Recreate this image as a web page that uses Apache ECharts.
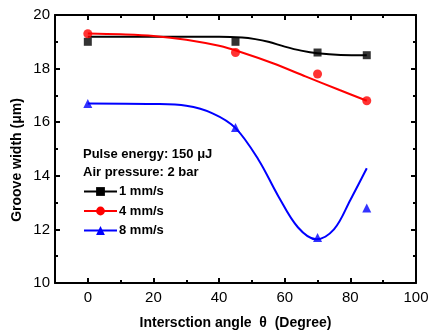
<!DOCTYPE html>
<html>
<head>
<meta charset="utf-8">
<script src="https://cdn.jsdelivr.net/npm/echarts@6/dist/echarts.min.js"></script>
<style>
  html, body { margin: 0; padding: 0; background: #fff; }
  #chart { width: 429px; height: 331px; }
</style>
</head>
<body>
<div id="chart"></div>
<script>
// Measured groove widths (μm) at each intersection angle (degree)
const angles = [0, 45, 70, 85];
const width1 = [19.0, 19.0, 18.6, 18.5];   // 1 mm/s
const width4 = [19.3, 18.6, 17.8, 16.8];   // 4 mm/s
const width8 = [16.7, 15.8, 11.7, 12.8];   // 8 mm/s

// Fitted trend curves: [angle, width]
const fit1 = [[0, 19.19], [20, 19.19], [40, 19.19], [47, 19.16], [51, 19.1], [55, 19.0],
              [60, 18.82], [65, 18.67], [70, 18.57], [77, 18.51], [85, 18.5]];
const fit4 = [[0, 19.31], [10, 19.28], [20, 19.22], [30, 19.08], [40, 18.85], [46.3, 18.63],
              [56.4, 18.2], [66.5, 17.7], [76.7, 17.2], [85, 16.8]];
const fit8 = [[0, 16.7], [20, 16.68], [30, 16.61], [38, 16.33], [45, 15.78], [52, 14.6],
              [58, 13.25], [64, 12.08], [69.6, 11.63], [75, 12.0], [80, 13.1], [85, 14.28]];

const xMajor = [0, 20, 40, 60, 80, 100];
const xMinor = [10, 30, 50, 70, 90];
const yMajor = [10, 12, 14, 16, 18, 20];
const yMinor = [11, 13, 15, 17, 19];

const seriesNames = ['1 mm/s', '4 mm/s', '8 mm/s'];
const infoLines = ['Pulse energy: 150 μJ', 'Air pressure: 2 bar'];
const xTitle = 'Intersction angle  θ  (Degree)';
const yTitle = 'Groove width (μm)';

const FONT = '"Liberation Sans", Arial, sans-serif';
const X_RANGE = { min: -10, max: 100 };
const Y_RANGE = { min: 10, max: 20 };

function xAxisDef(pos, ticks, len, withLine, withLabels, extra) {
  return Object.assign({
    type: 'value', position: pos, min: X_RANGE.min, max: X_RANGE.max,
    axisLine: { show: withLine, onZero: false, lineStyle: { color: '#000', width: 2 } },
    axisTick: { show: true, inside: true, length: len, customValues: ticks, lineStyle: { color: '#000', width: 2 } },
    axisLabel: withLabels
      ? { show: true, customValues: ticks, color: '#000', fontSize: 15, fontFamily: FONT, margin: 7 }
      : { show: false },
    splitLine: { show: false }
  }, extra || {});
}
function yAxisDef(pos, ticks, len, withLine, withLabels, extra) {
  return Object.assign({
    type: 'value', position: pos, min: Y_RANGE.min, max: Y_RANGE.max,
    axisLine: { show: withLine, onZero: false, lineStyle: { color: '#000', width: 2 } },
    axisTick: { show: true, inside: true, length: len, customValues: ticks, lineStyle: { color: '#000', width: 2 } },
    axisLabel: withLabels
      ? { show: true, customValues: ticks, color: '#000', fontSize: 15, fontFamily: FONT, margin: 5 }
      : { show: false },
    splitLine: { show: false }
  }, extra || {});
}

const chart = echarts.init(document.getElementById('chart'), null, { renderer: 'canvas' });

const option = {
  backgroundColor: '#fff',
  animation: false,
  grid: { left: 55, right: 13, top: 15, bottom: 48, containLabel: false, outerBoundsMode: 'none' },
  xAxis: [
    xAxisDef('bottom', xMajor, 5, true, true, {
      name: xTitle, nameLocation: 'middle', nameGap: 33,
      nameTextStyle: { color: '#000', fontSize: 14, fontWeight: 'bold', fontFamily: FONT }
    }),
    xAxisDef('bottom', xMinor, 3, false, false),
    xAxisDef('top', xMajor, 5, true, false),
    xAxisDef('top', xMinor, 3, false, false)
  ],
  yAxis: [
    yAxisDef('left', yMajor, 5, true, true),
    yAxisDef('left', yMinor, 3, false, false),
    yAxisDef('right', yMajor, 5, true, false),
    yAxisDef('right', yMinor, 3, false, false)
  ],
  legend: {
    orient: 'vertical', left: 83, top: 185, itemWidth: 33, itemHeight: 11, itemGap: 6.5,
    padding: 0,
    data: seriesNames,
    textStyle: { color: '#000', fontSize: 13, fontWeight: 'bold', fontFamily: FONT, padding: [0, 0, 0, -3] }
  },
  graphic: infoLines.map((t, i) => ({
    type: 'text', left: 83, top: 147.5 + i * 18,
    style: { text: t, fill: '#000', font: 'bold 13px ' + FONT }
  })).concat([{
    type: 'text', x: 17, y: 160, rotation: Math.PI / 2,
    style: { text: yTitle, fill: '#000', font: 'bold 14px ' + FONT, align: 'center', verticalAlign: 'middle' }
  }]),
  series: [
    { name: seriesNames[0], type: 'line', data: fit1, smooth: 0.35, showSymbol: false, symbol: 'rect', symbolSize: 9,
      lineStyle: { color: '#000', width: 2 }, itemStyle: { color: '#000' }, z: 2 },
    { name: seriesNames[1], type: 'line', data: fit4, smooth: 0.35, showSymbol: false, symbol: 'circle', symbolSize: 10,
      lineStyle: { color: '#ff0000', width: 2 }, itemStyle: { color: '#ff0000' }, z: 2 },
    { name: seriesNames[2], type: 'line', data: fit8, smooth: 0.35, showSymbol: false, symbol: 'triangle', symbolSize: 10,
      lineStyle: { color: '#0000ff', width: 2 }, itemStyle: { color: '#0000ff' }, z: 2 },
    { type: 'scatter', data: angles.map((a, i) => [a, width1[i]]), symbol: 'rect', symbolSize: 8,
      itemStyle: { color: '#000' }, z: 3 },
    { type: 'scatter', data: angles.map((a, i) => [a, width4[i]]), symbol: 'circle', symbolSize: 9,
      itemStyle: { color: '#ff0000' }, z: 3 },
    { type: 'scatter', data: angles.map((a, i) => [a, width8[i]]), symbol: 'triangle', symbolSize: 9,
      itemStyle: { color: '#0000ff' }, z: 3 }
  ]
};

chart.setOption(option);
</script>
</body>
</html>
